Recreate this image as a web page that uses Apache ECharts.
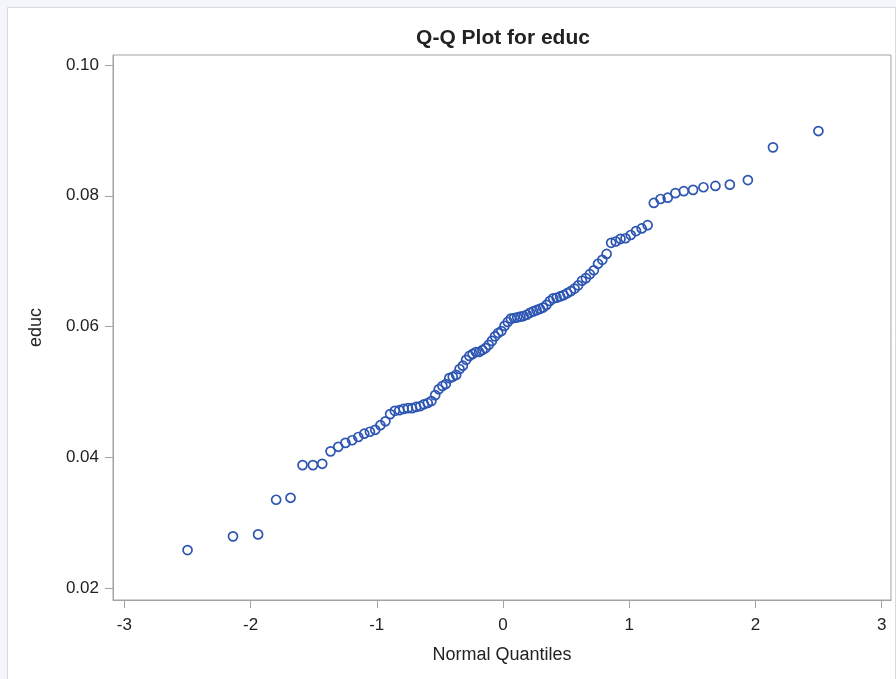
<!DOCTYPE html>
<html>
<head>
<meta charset="utf-8">
<script src="https://cdn.jsdelivr.net/npm/echarts@6/dist/echarts.min.js"></script>
<style>
html,body{margin:0;padding:0;background:#f4f6fb;}
#chart{width:896px;height:679px;}
</style>
</head>
<body>
<div id="chart"></div>
<script>
// Normal quantiles (x) for the 100 ordered observations
var normalQuantiles = [
 -2.499,-2.139,-1.940,-1.797,-1.683,-1.588,-1.506,-1.432,-1.366,-1.305,
 -1.248,-1.195,-1.146,-1.099,-1.054,-1.012,-0.971,-0.931,-0.894,-0.857,
 -0.821,-0.787,-0.753,-0.720,-0.688,-0.657,-0.626,-0.596,-0.567,-0.537,
 -0.509,-0.480,-0.453,-0.425,-0.398,-0.371,-0.344,-0.318,-0.292,-0.266,
 -0.240,-0.214,-0.189,-0.163,-0.138,-0.113,-0.088,-0.063,-0.038,-0.0125,
 0.0125,0.038,0.063,0.088,0.113,0.138,0.163,0.189,0.214,0.240,
 0.266,0.292,0.318,0.344,0.371,0.398,0.425,0.453,0.480,0.509,
 0.537,0.567,0.596,0.626,0.657,0.688,0.720,0.753,0.787,0.821,
 0.857,0.894,0.931,0.971,1.012,1.054,1.099,1.146,1.195,1.248,
 1.305,1.366,1.432,1.506,1.588,1.683,1.797,1.940,2.139,2.499
];
// Ordered educ values (y)
var educ = [
 0.0258,0.0279,0.0282,0.0335,0.0338,0.0388,0.0388,0.0390,0.0409,0.0416,
 0.0422,0.0426,0.0431,0.0436,0.0439,0.0442,0.0449,0.0455,0.0466,0.0471,
 0.0472,0.0474,0.0475,0.0475,0.0477,0.0478,0.0481,0.0483,0.0486,0.0495,
 0.0504,0.0509,0.0512,0.0521,0.0523,0.0526,0.0535,0.0540,0.0549,0.0555,
 0.0558,0.0561,0.0561,0.0564,0.0567,0.0572,0.0578,0.0585,0.0590,0.0593,
 0.0601,0.0607,0.0612,0.0613,0.0614,0.0615,0.0616,0.0618,0.0621,0.0623,
 0.0625,0.0627,0.0629,0.0633,0.0639,0.0643,0.0644,0.0646,0.0648,0.0651,
 0.0654,0.0658,0.0663,0.0670,0.0674,0.0680,0.0686,0.0696,0.0702,0.0711,
 0.0728,0.0730,0.0734,0.0735,0.0740,0.0746,0.0750,0.0755,0.0789,0.0795,
 0.0797,0.0804,0.0807,0.0809,0.0813,0.0815,0.0817,0.0824,0.0874,0.0899
];
var xTicks = [-3,-2,-1,0,1,2,3];
var yTicks = [0.02,0.04,0.06,0.08,0.10];

var points = normalQuantiles.map(function(q,i){ return [q, educ[i]]; });

var FONT = '"Liberation Sans", Arial, sans-serif';
var AXIS_COLOR = '#a3a3a3';
var TEXT_COLOR = '#222';

var chart = echarts.init(document.getElementById('chart'), null, {renderer:'canvas'});
chart.setOption({
  backgroundColor: '#f4f6fb',
  animation: false,
  graphic: [{
    type: 'rect', silent: true, z: -10,
    shape: {x: 7.5, y: 7.5, width: 888, height: 700},
    style: {fill: '#ffffff', stroke: '#d5d9e2', lineWidth: 1}
  }],
  title: {
    text: 'Q-Q Plot for educ',
    left: 498, top: 23, textAlign: 'center',
    textStyle: {fontFamily: FONT, fontSize: 21, fontWeight: 'bold', color: TEXT_COLOR}
  },
  grid: {
    left: 113, right: 5, top: 55, bottom: 79,
    show: true, borderColor: AXIS_COLOR, borderWidth: 1, backgroundColor: '#fff'
  },
  xAxis: {
    type: 'value', min: -3.0895, max: 3.074,
    name: 'Normal Quantiles', nameLocation: 'middle', nameGap: 46,
    nameTextStyle: {fontFamily: FONT, fontSize: 18, color: TEXT_COLOR},
    splitLine: {show: false},
    axisLine: {show: true, onZero: false, lineStyle: {color: AXIS_COLOR}},
    axisTick: {show: true, length: 8, customValues: xTicks, lineStyle: {color: AXIS_COLOR}},
    axisLabel: {customValues: xTicks, margin: 17, fontFamily: FONT, fontSize: 17, color: TEXT_COLOR,
      formatter: function(v){ return String(Math.round(v)); }}
  },
  yAxis: {
    type: 'value', min: 0.018164, max: 0.10153,
    name: 'educ', nameLocation: 'middle', nameGap: 68, nameRotate: 90,
    nameTextStyle: {fontFamily: FONT, fontSize: 18, color: TEXT_COLOR},
    splitLine: {show: false},
    axisLine: {show: true, onZero: false, lineStyle: {color: AXIS_COLOR}},
    axisTick: {show: true, length: 8, customValues: yTicks, lineStyle: {color: AXIS_COLOR}},
    axisLabel: {customValues: yTicks, margin: 14, fontFamily: FONT, fontSize: 17, color: TEXT_COLOR,
      formatter: function(v){ return v.toFixed(2); }}
  },
  series: [{
    type: 'scatter',
    data: points,
    symbol: 'circle',
    symbolSize: 9,
    itemStyle: {color: 'rgba(0,0,0,0)', borderColor: '#2d55b2', borderWidth: 1.7, opacity: 1}
  }]
});
</script>
</body>
</html>
